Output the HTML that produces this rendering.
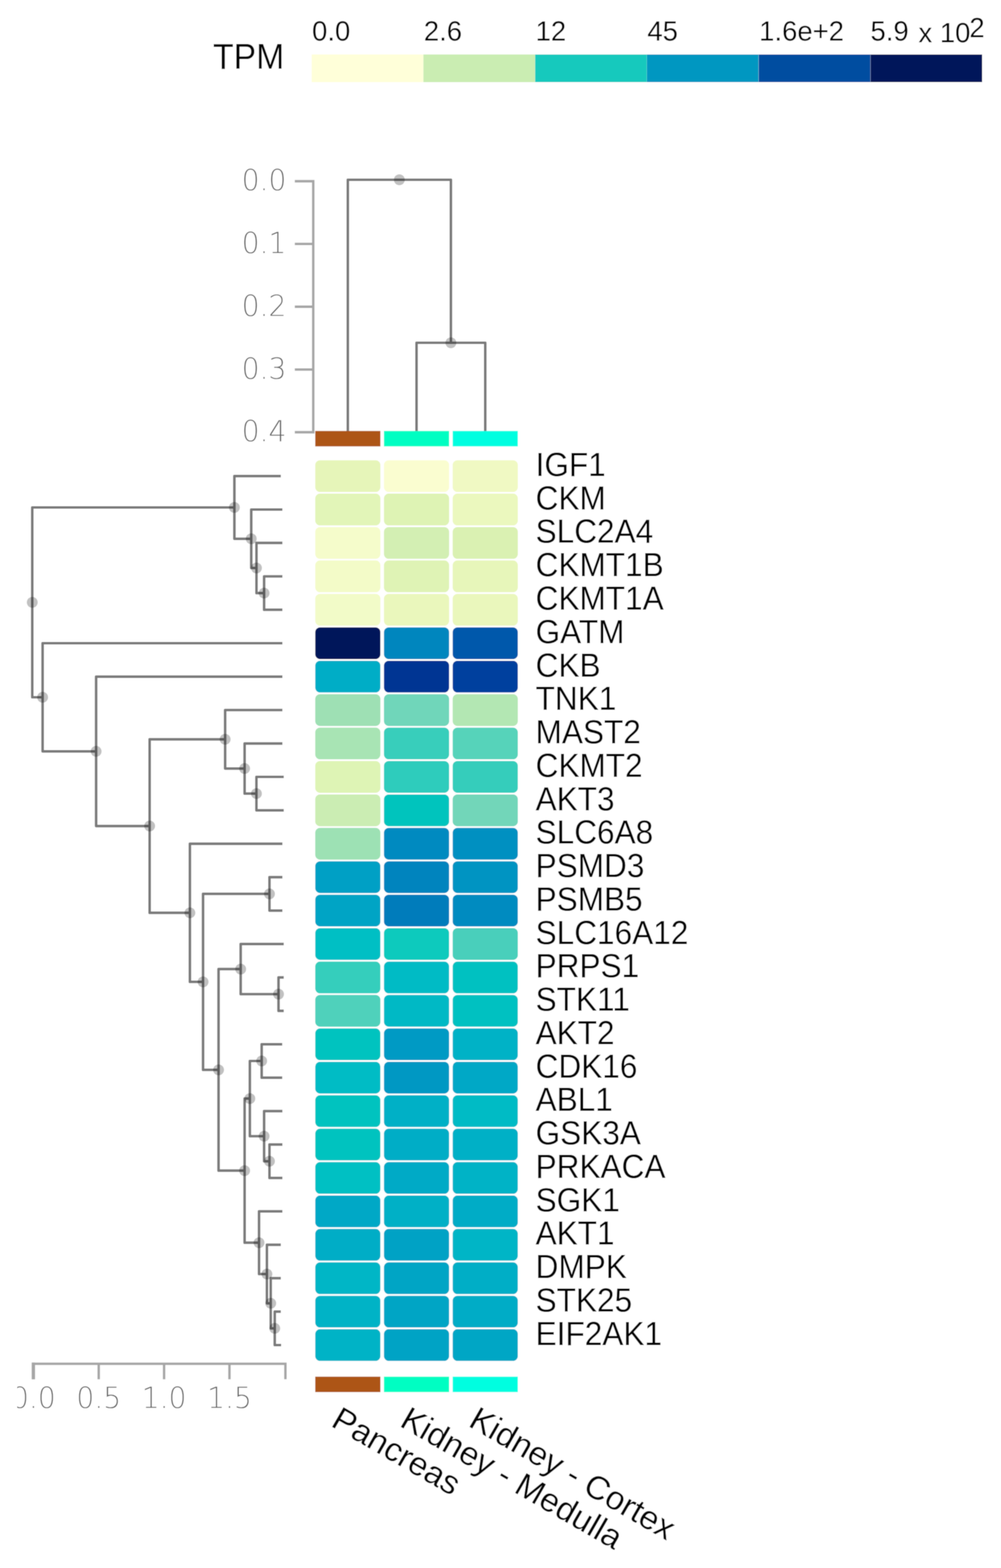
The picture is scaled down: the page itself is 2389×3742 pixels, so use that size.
<!DOCTYPE html>
<html lang="en">
<head>
<meta charset="utf-8">
<title>TPM expression heatmap</title>
<style>
html,body{margin:0;padding:0;background:#fff;}
body{width:2389px;height:3742px;overflow:hidden;}
svg{display:block;}
</style>
</head>
<body>
<svg width="2389" height="3742" viewBox="0 0 2389 3742">
<defs><filter id="soft" x="0" y="0" width="2389" height="3742" filterUnits="userSpaceOnUse"><feConvolveMatrix order="5" kernelMatrix="0.00212 0.01118 0.01946 0.01118 0.00212 0.01118 0.05892 0.10253 0.05892 0.01118 0.01946 0.10253 0.17843 0.10253 0.01946 0.01118 0.05892 0.10253 0.05892 0.01118 0.00212 0.01118 0.01946 0.01118 0.00212" edgeMode="duplicate" preserveAlpha="true"/></filter></defs>
<rect width="2389" height="3742" fill="#fff"/>
<g filter="url(#soft)">
<rect width="2389" height="3742" fill="#fff"/>
<g id="legend">
<text transform="translate(678.3,163.6) scale(1,1.05)" text-anchor="end" font-family='"Liberation Sans", sans-serif' font-size="80.6" fill="#000" >TPM</text>
<rect x="743.8" y="130" width="266.4" height="66" fill="#ffffd9"/>
<rect x="1010.5" y="130" width="266.4" height="66" fill="#caedb2"/>
<rect x="1277.3" y="130" width="266.4" height="66" fill="#12c9bd"/>
<rect x="1544" y="130" width="266.4" height="66" fill="#0097c1"/>
<rect x="1810.8" y="130" width="266.4" height="66" fill="#004da0"/>
<rect x="2077.6" y="130" width="266.4" height="66" fill="#00175a"/>
<text transform="translate(744.8,97.4) scale(1,1.03)" font-family='"Liberation Sans", sans-serif' font-size="65.6" fill="#000" >0.0</text>
<text transform="translate(1011.5,97.4) scale(1,1.03)" font-family='"Liberation Sans", sans-serif' font-size="65.6" fill="#000" >2.6</text>
<text transform="translate(1278.3,97.4) scale(1,1.03)" font-family='"Liberation Sans", sans-serif' font-size="65.6" fill="#000" >12</text>
<text transform="translate(1545,97.4) scale(1,1.03)" font-family='"Liberation Sans", sans-serif' font-size="65.6" fill="#000" >45</text>
<text transform="translate(1811.8,97.4) scale(1,1.03)" font-family='"Liberation Sans", sans-serif' font-size="65.6" fill="#000" >1.6e+2</text>
<text transform="translate(2077.6,97.4) scale(1,1.03)" font-family='"Liberation Sans", sans-serif' font-size="65.6" fill="#000" ><tspan x="0" y="0">5.9</tspan><tspan x="114.4" y="3.8">x 10</tspan><tspan x="235.9" y="-8.4">2</tspan></text>
</g>
<g id="col-axis">
<path d="M703.6,432.5H747.6V1031.5H703.6" fill="none" stroke="#a6a6a6" stroke-width="5.8"/>
<line x1="703.6" x2="747.6" y1="582.2" y2="582.2" stroke="#a6a6a6" stroke-width="5.8"/>
<line x1="703.6" x2="747.6" y1="732" y2="732" stroke="#a6a6a6" stroke-width="5.8"/>
<line x1="703.6" x2="747.6" y1="881.8" y2="881.8" stroke="#a6a6a6" stroke-width="5.8"/>
<text transform="translate(683.5,454.3) scale(1,1.03)" text-anchor="end" font-family='"DejaVu Sans Light", "DejaVu Sans", sans-serif' font-weight="200" font-size="67.2" fill="#5e5e5e" stroke="#fff" stroke-width="0.25">0.0</text>
<text transform="translate(683.5,604) scale(1,1.03)" text-anchor="end" font-family='"DejaVu Sans Light", "DejaVu Sans", sans-serif' font-weight="200" font-size="67.2" fill="#5e5e5e" stroke="#fff" stroke-width="0.25">0.1</text>
<text transform="translate(683.5,753.8) scale(1,1.03)" text-anchor="end" font-family='"DejaVu Sans Light", "DejaVu Sans", sans-serif' font-weight="200" font-size="67.2" fill="#5e5e5e" stroke="#fff" stroke-width="0.25">0.2</text>
<text transform="translate(683.5,903.5) scale(1,1.03)" text-anchor="end" font-family='"DejaVu Sans Light", "DejaVu Sans", sans-serif' font-weight="200" font-size="67.2" fill="#5e5e5e" stroke="#fff" stroke-width="0.25">0.3</text>
<text transform="translate(683.5,1053.3) scale(1,1.03)" text-anchor="end" font-family='"DejaVu Sans Light", "DejaVu Sans", sans-serif' font-weight="200" font-size="67.2" fill="#5e5e5e" stroke="#fff" stroke-width="0.25">0.4</text>
</g>
<g id="col-dendro" fill="none" stroke="#7a7a7a" stroke-width="6.2" stroke-linejoin="round">
<path d="M830.1,1029V429H1076.1V818"/>
<path d="M994.1,1029V818H1158.1V1029"/>
</g>
<circle cx="953.1" cy="429" r="13" fill="#000" fill-opacity="0.245"/>
<circle cx="1076.1" cy="818" r="13" fill="#000" fill-opacity="0.245"/>
<g id="tissue-bars">
<rect x="752.4" y="1028.5" width="155.4" height="36.8" fill="#ad5417"/>
<rect x="916.4" y="1028.5" width="155.4" height="36.8" fill="#00fec2"/>
<rect x="1080.4" y="1028.5" width="155.4" height="36.8" fill="#00fee0"/>
<rect x="752.4" y="3285.4" width="155.4" height="36.8" fill="#ad5417"/>
<rect x="916.4" y="3285.4" width="155.4" height="36.8" fill="#00fec2"/>
<rect x="1080.4" y="3285.4" width="155.4" height="36.8" fill="#00fee0"/>
</g>
<g id="heatmap">
<rect x="752.4" y="1098.4" width="155.4" height="75.7" rx="11.5" ry="11.5" fill="#e6f5b9"/>
<rect x="916.4" y="1098.4" width="155.4" height="75.7" rx="11.5" ry="11.5" fill="#fafdd0"/>
<rect x="1080.4" y="1098.4" width="155.4" height="75.7" rx="11.5" ry="11.5" fill="#f0f9c3"/>
<rect x="752.4" y="1178.1" width="155.4" height="75.7" rx="11.5" ry="11.5" fill="#e2f5b8"/>
<rect x="916.4" y="1178.1" width="155.4" height="75.7" rx="11.5" ry="11.5" fill="#def3b4"/>
<rect x="1080.4" y="1178.1" width="155.4" height="75.7" rx="11.5" ry="11.5" fill="#ebf8be"/>
<rect x="752.4" y="1257.9" width="155.4" height="75.7" rx="11.5" ry="11.5" fill="#f5fccb"/>
<rect x="916.4" y="1257.9" width="155.4" height="75.7" rx="11.5" ry="11.5" fill="#d3efb3"/>
<rect x="1080.4" y="1257.9" width="155.4" height="75.7" rx="11.5" ry="11.5" fill="#daf1b2"/>
<rect x="752.4" y="1337.6" width="155.4" height="75.7" rx="11.5" ry="11.5" fill="#f3fbc8"/>
<rect x="916.4" y="1337.6" width="155.4" height="75.7" rx="11.5" ry="11.5" fill="#dff3b5"/>
<rect x="1080.4" y="1337.6" width="155.4" height="75.7" rx="11.5" ry="11.5" fill="#e7f6ba"/>
<rect x="752.4" y="1417.4" width="155.4" height="75.7" rx="11.5" ry="11.5" fill="#f2fbc8"/>
<rect x="916.4" y="1417.4" width="155.4" height="75.7" rx="11.5" ry="11.5" fill="#eaf7bc"/>
<rect x="1080.4" y="1417.4" width="155.4" height="75.7" rx="11.5" ry="11.5" fill="#eaf7bc"/>
<rect x="752.4" y="1497.2" width="155.4" height="75.7" rx="11.5" ry="11.5" fill="#00175a"/>
<rect x="916.4" y="1497.2" width="155.4" height="75.7" rx="11.5" ry="11.5" fill="#0086be"/>
<rect x="1080.4" y="1497.2" width="155.4" height="75.7" rx="11.5" ry="11.5" fill="#0059ab"/>
<rect x="752.4" y="1576.9" width="155.4" height="75.7" rx="11.5" ry="11.5" fill="#00adc6"/>
<rect x="916.4" y="1576.9" width="155.4" height="75.7" rx="11.5" ry="11.5" fill="#003593"/>
<rect x="1080.4" y="1576.9" width="155.4" height="75.7" rx="11.5" ry="11.5" fill="#00409e"/>
<rect x="752.4" y="1656.7" width="155.4" height="75.7" rx="11.5" ry="11.5" fill="#9ee0b4"/>
<rect x="916.4" y="1656.7" width="155.4" height="75.7" rx="11.5" ry="11.5" fill="#6fd6ba"/>
<rect x="1080.4" y="1656.7" width="155.4" height="75.7" rx="11.5" ry="11.5" fill="#b3e7b3"/>
<rect x="752.4" y="1736.4" width="155.4" height="75.7" rx="11.5" ry="11.5" fill="#a8e4b4"/>
<rect x="916.4" y="1736.4" width="155.4" height="75.7" rx="11.5" ry="11.5" fill="#37cebb"/>
<rect x="1080.4" y="1736.4" width="155.4" height="75.7" rx="11.5" ry="11.5" fill="#57d3ba"/>
<rect x="752.4" y="1816.2" width="155.4" height="75.7" rx="11.5" ry="11.5" fill="#def4b5"/>
<rect x="916.4" y="1816.2" width="155.4" height="75.7" rx="11.5" ry="11.5" fill="#2fccbc"/>
<rect x="1080.4" y="1816.2" width="155.4" height="75.7" rx="11.5" ry="11.5" fill="#34cdbb"/>
<rect x="752.4" y="1896" width="155.4" height="75.7" rx="11.5" ry="11.5" fill="#cbedb3"/>
<rect x="916.4" y="1896" width="155.4" height="75.7" rx="11.5" ry="11.5" fill="#00c4bd"/>
<rect x="1080.4" y="1896" width="155.4" height="75.7" rx="11.5" ry="11.5" fill="#72d6b9"/>
<rect x="752.4" y="1975.7" width="155.4" height="75.7" rx="11.5" ry="11.5" fill="#9de1b4"/>
<rect x="916.4" y="1975.7" width="155.4" height="75.7" rx="11.5" ry="11.5" fill="#008ac0"/>
<rect x="1080.4" y="1975.7" width="155.4" height="75.7" rx="11.5" ry="11.5" fill="#0090c1"/>
<rect x="752.4" y="2055.5" width="155.4" height="75.7" rx="11.5" ry="11.5" fill="#00a0c5"/>
<rect x="916.4" y="2055.5" width="155.4" height="75.7" rx="11.5" ry="11.5" fill="#0084be"/>
<rect x="1080.4" y="2055.5" width="155.4" height="75.7" rx="11.5" ry="11.5" fill="#0094c2"/>
<rect x="752.4" y="2135.2" width="155.4" height="75.7" rx="11.5" ry="11.5" fill="#00a4c5"/>
<rect x="916.4" y="2135.2" width="155.4" height="75.7" rx="11.5" ry="11.5" fill="#007bbb"/>
<rect x="1080.4" y="2135.2" width="155.4" height="75.7" rx="11.5" ry="11.5" fill="#008bc0"/>
<rect x="752.4" y="2215" width="155.4" height="75.7" rx="11.5" ry="11.5" fill="#00bfc4"/>
<rect x="916.4" y="2215" width="155.4" height="75.7" rx="11.5" ry="11.5" fill="#10cabd"/>
<rect x="1080.4" y="2215" width="155.4" height="75.7" rx="11.5" ry="11.5" fill="#48cfbb"/>
<rect x="752.4" y="2294.8" width="155.4" height="75.7" rx="11.5" ry="11.5" fill="#36cebc"/>
<rect x="916.4" y="2294.8" width="155.4" height="75.7" rx="11.5" ry="11.5" fill="#00bbc5"/>
<rect x="1080.4" y="2294.8" width="155.4" height="75.7" rx="11.5" ry="11.5" fill="#00c1c1"/>
<rect x="752.4" y="2374.5" width="155.4" height="75.7" rx="11.5" ry="11.5" fill="#4fd1bb"/>
<rect x="916.4" y="2374.5" width="155.4" height="75.7" rx="11.5" ry="11.5" fill="#00b9c5"/>
<rect x="1080.4" y="2374.5" width="155.4" height="75.7" rx="11.5" ry="11.5" fill="#00c1c1"/>
<rect x="752.4" y="2454.3" width="155.4" height="75.7" rx="11.5" ry="11.5" fill="#00c3bf"/>
<rect x="916.4" y="2454.3" width="155.4" height="75.7" rx="11.5" ry="11.5" fill="#009ac4"/>
<rect x="1080.4" y="2454.3" width="155.4" height="75.7" rx="11.5" ry="11.5" fill="#00b2c6"/>
<rect x="752.4" y="2534" width="155.4" height="75.7" rx="11.5" ry="11.5" fill="#00bcc5"/>
<rect x="916.4" y="2534" width="155.4" height="75.7" rx="11.5" ry="11.5" fill="#0098c3"/>
<rect x="1080.4" y="2534" width="155.4" height="75.7" rx="11.5" ry="11.5" fill="#00a8c6"/>
<rect x="752.4" y="2613.8" width="155.4" height="75.7" rx="11.5" ry="11.5" fill="#00c3bf"/>
<rect x="916.4" y="2613.8" width="155.4" height="75.7" rx="11.5" ry="11.5" fill="#00b0c6"/>
<rect x="1080.4" y="2613.8" width="155.4" height="75.7" rx="11.5" ry="11.5" fill="#00bbc5"/>
<rect x="752.4" y="2693.6" width="155.4" height="75.7" rx="11.5" ry="11.5" fill="#00c3bf"/>
<rect x="916.4" y="2693.6" width="155.4" height="75.7" rx="11.5" ry="11.5" fill="#00adc6"/>
<rect x="1080.4" y="2693.6" width="155.4" height="75.7" rx="11.5" ry="11.5" fill="#00b0c6"/>
<rect x="752.4" y="2773.3" width="155.4" height="75.7" rx="11.5" ry="11.5" fill="#00c0c3"/>
<rect x="916.4" y="2773.3" width="155.4" height="75.7" rx="11.5" ry="11.5" fill="#00aac6"/>
<rect x="1080.4" y="2773.3" width="155.4" height="75.7" rx="11.5" ry="11.5" fill="#00b3c6"/>
<rect x="752.4" y="2853.1" width="155.4" height="75.7" rx="11.5" ry="11.5" fill="#00a8c6"/>
<rect x="916.4" y="2853.1" width="155.4" height="75.7" rx="11.5" ry="11.5" fill="#00b0c6"/>
<rect x="1080.4" y="2853.1" width="155.4" height="75.7" rx="11.5" ry="11.5" fill="#00acc6"/>
<rect x="752.4" y="2932.8" width="155.4" height="75.7" rx="11.5" ry="11.5" fill="#00adc6"/>
<rect x="916.4" y="2932.8" width="155.4" height="75.7" rx="11.5" ry="11.5" fill="#00a2c5"/>
<rect x="1080.4" y="2932.8" width="155.4" height="75.7" rx="11.5" ry="11.5" fill="#00b5c6"/>
<rect x="752.4" y="3012.6" width="155.4" height="75.7" rx="11.5" ry="11.5" fill="#00b6c6"/>
<rect x="916.4" y="3012.6" width="155.4" height="75.7" rx="11.5" ry="11.5" fill="#00a5c5"/>
<rect x="1080.4" y="3012.6" width="155.4" height="75.7" rx="11.5" ry="11.5" fill="#00aec6"/>
<rect x="752.4" y="3092.4" width="155.4" height="75.7" rx="11.5" ry="11.5" fill="#00b3c6"/>
<rect x="916.4" y="3092.4" width="155.4" height="75.7" rx="11.5" ry="11.5" fill="#00a5c5"/>
<rect x="1080.4" y="3092.4" width="155.4" height="75.7" rx="11.5" ry="11.5" fill="#00acc6"/>
<rect x="752.4" y="3172.1" width="155.4" height="75.7" rx="11.5" ry="11.5" fill="#00b3c6"/>
<rect x="916.4" y="3172.1" width="155.4" height="75.7" rx="11.5" ry="11.5" fill="#00a3c5"/>
<rect x="1080.4" y="3172.1" width="155.4" height="75.7" rx="11.5" ry="11.5" fill="#00a6c5"/>
</g>
<g id="row-labels" font-family='"Liberation Sans", sans-serif' font-size="75.4" fill="#000" >
<text transform="translate(1278.2,1135.9) scale(1,1.05)">IGF1</text>
<text transform="translate(1278.2,1215.7) scale(1,1.05)">CKM</text>
<text transform="translate(1278.2,1295.4) scale(1,1.05)">SLC2A4</text>
<text transform="translate(1278.2,1375.2) scale(1,1.05)">CKMT1B</text>
<text transform="translate(1278.2,1454.9) scale(1,1.05)">CKMT1A</text>
<text transform="translate(1278.2,1534.7) scale(1,1.05)">GATM</text>
<text transform="translate(1278.2,1614.5) scale(1,1.05)">CKB</text>
<text transform="translate(1278.2,1694.2) scale(1,1.05)">TNK1</text>
<text transform="translate(1278.2,1774) scale(1,1.05)">MAST2</text>
<text transform="translate(1278.2,1853.7) scale(1,1.05)">CKMT2</text>
<text transform="translate(1278.2,1933.5) scale(1,1.05)">AKT3</text>
<text transform="translate(1278.2,2013.3) scale(1,1.05)">SLC6A8</text>
<text transform="translate(1278.2,2093) scale(1,1.05)">PSMD3</text>
<text transform="translate(1278.2,2172.8) scale(1,1.05)">PSMB5</text>
<text transform="translate(1278.2,2252.5) scale(1,1.05)">SLC16A12</text>
<text transform="translate(1278.2,2332.3) scale(1,1.05)">PRPS1</text>
<text transform="translate(1278.2,2412.1) scale(1,1.05)">STK11</text>
<text transform="translate(1278.2,2491.8) scale(1,1.05)">AKT2</text>
<text transform="translate(1278.2,2571.6) scale(1,1.05)">CDK16</text>
<text transform="translate(1278.2,2651.3) scale(1,1.05)">ABL1</text>
<text transform="translate(1278.2,2731.1) scale(1,1.05)">GSK3A</text>
<text transform="translate(1278.2,2810.9) scale(1,1.05)">PRKACA</text>
<text transform="translate(1278.2,2890.6) scale(1,1.05)">SGK1</text>
<text transform="translate(1278.2,2970.4) scale(1,1.05)">AKT1</text>
<text transform="translate(1278.2,3050.1) scale(1,1.05)">DMPK</text>
<text transform="translate(1278.2,3129.9) scale(1,1.05)">STK25</text>
<text transform="translate(1278.2,3209.7) scale(1,1.05)">EIF2AK1</text>
</g>
<g id="col-labels" font-family='"Liberation Sans", sans-serif' font-size="75.3" fill="#000" >
<text transform="translate(787,3402) rotate(30) scale(1.06,1.05)">Pancreas</text>
<text transform="translate(951,3402) rotate(30) scale(1.06,1.05)">Kidney - Medulla</text>
<text transform="translate(1115,3402) rotate(30) scale(1.06,1.05)">Kidney - Cortex</text>
</g>
<g id="row-dendro" fill="none" stroke="#7a7a7a" stroke-width="6.2" stroke-linejoin="round">
<path d="M559.4,1211H77V1664H101.7"/>
<path d="M670.2,1136.2H559.4V1285.8H599.6"/>
<path d="M674,1216H599.6V1355.5H612.1"/>
<path d="M674,1295.7H612.1V1415.4H630.3"/>
<path d="M674,1375.5H630.3V1455.2H674"/>
<path d="M674,1535H101.7V1793.1H229.4"/>
<path d="M674,1614.8H229.4V1971.3H357.1"/>
<path d="M537.3,1764.3H357.1V2178.4H453.2"/>
<path d="M674,1694.5H537.3V1834.1H583.8"/>
<path d="M674,1774.3H583.8V1893.9H612"/>
<path d="M677.2,1854H612V1933.8H677.2"/>
<path d="M674,2013.6H453.2V2343.2H484.6"/>
<path d="M643.1,2133.2H484.6V2553.2H521.6"/>
<path d="M674,2093.3H643.1V2173.1H674"/>
<path d="M574.4,2312.7H521.6V2793.7H583.8"/>
<path d="M677.2,2252.8H574.4V2372.5H664.7"/>
<path d="M677.2,2332.6H664.7V2412.4H677.2"/>
<path d="M596.3,2621.7H583.8V2965.7H618.2"/>
<path d="M624.5,2532H596.3V2711.5H630.3"/>
<path d="M673.5,2492.1H624.5V2571.9H673.5"/>
<path d="M674,2651.6H630.3V2771.3H643.1"/>
<path d="M674,2731.4H643.1V2811.2H674"/>
<path d="M674,2890.9H618.2V3040.5H637"/>
<path d="M670.2,2970.7H637V3110.3H646.1"/>
<path d="M670.2,3050.4H646.1V3170.1H655.7"/>
<path d="M670.2,3130.2H655.7V3210H671"/>
</g>
<g id="row-nodes" fill="#000" fill-opacity="0.245">
<circle cx="77" cy="1437.5" r="13"/>
<circle cx="559.4" cy="1211" r="13"/>
<circle cx="599.6" cy="1285.8" r="13"/>
<circle cx="612.1" cy="1355.5" r="13"/>
<circle cx="630.3" cy="1415.4" r="13"/>
<circle cx="101.7" cy="1664" r="13"/>
<circle cx="229.4" cy="1793.1" r="13"/>
<circle cx="357.1" cy="1971.3" r="13"/>
<circle cx="537.3" cy="1764.3" r="13"/>
<circle cx="583.8" cy="1834.1" r="13"/>
<circle cx="612" cy="1893.9" r="13"/>
<circle cx="453.2" cy="2178.4" r="13"/>
<circle cx="484.6" cy="2343.2" r="13"/>
<circle cx="643.1" cy="2133.2" r="13"/>
<circle cx="521.6" cy="2553.2" r="13"/>
<circle cx="574.4" cy="2312.7" r="13"/>
<circle cx="664.7" cy="2372.5" r="13"/>
<circle cx="583.8" cy="2793.7" r="13"/>
<circle cx="596.3" cy="2621.7" r="13"/>
<circle cx="624.5" cy="2532" r="13"/>
<circle cx="630.3" cy="2711.5" r="13"/>
<circle cx="643.1" cy="2771.3" r="13"/>
<circle cx="618.2" cy="2965.7" r="13"/>
<circle cx="637" cy="3040.5" r="13"/>
<circle cx="646.1" cy="3110.3" r="13"/>
<circle cx="655.7" cy="3170.1" r="13"/>
</g>
<g id="row-axis">
<path d="M79.6,3291.6V3254.6H681.2V3291.6" fill="none" stroke="#a6a6a6" stroke-width="5.8"/>
<rect x="75.6" y="3251.7" width="8" height="39.9" fill="#a6a6a6"/>
<line x1="235.6" x2="235.6" y1="3254.6" y2="3291.6" stroke="#a6a6a6" stroke-width="5.8"/>
<line x1="391.6" x2="391.6" y1="3254.6" y2="3291.6" stroke="#a6a6a6" stroke-width="5.8"/>
<line x1="547.6" x2="547.6" y1="3254.6" y2="3291.6" stroke="#a6a6a6" stroke-width="5.8"/>
<clipPath id="cl"><rect x="41" y="3280" width="700" height="120"/></clipPath>
<g clip-path="url(#cl)" font-family='"DejaVu Sans Light", "DejaVu Sans", sans-serif' font-weight="200" font-size="67.2" fill="#5e5e5e" text-anchor="middle" stroke="#fff" stroke-width="0.25">
<text transform="translate(79.6,3360.2) scale(1,1.03)">0.0</text>
<text transform="translate(235.6,3360.2) scale(1,1.03)">0.5</text>
<text transform="translate(391.6,3360.2) scale(1,1.03)">1.0</text>
<text transform="translate(547.6,3360.2) scale(1,1.03)">1.5</text>
</g></g>
</g>
</svg>
</body>
</html>
